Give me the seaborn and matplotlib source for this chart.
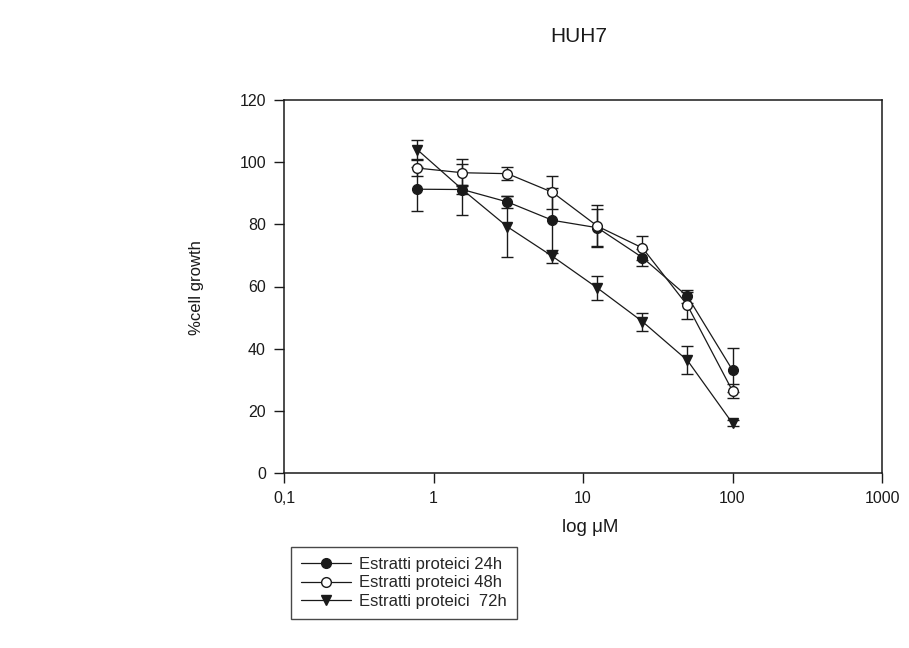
import matplotlib
matplotlib.use("Agg")
import matplotlib.pyplot as plt
import seaborn as sns
import pandas as pd
from matplotlib.ticker import FixedLocator, FixedFormatter, NullLocator

# ---- data ----
dose_uM = [0.78, 1.56, 3.125, 6.25, 12.5, 25, 50, 100]
growth_24h = [91.3, 91.2, 87.2, 81.3, 78.9, 69.3, 56.8, 33.1]
err_24h = [7.0, 1.5, 2.0, 10.5, 6.0, 2.8, 2.0, 7.0]
growth_48h = [98.1, 96.6, 96.3, 90.3, 79.4, 72.4, 53.9, 26.4]
err_48h = [2.7, 4.3, 2.0, 5.3, 6.8, 4.0, 4.2, 2.2]
growth_72h = [104.0, 91.2, 79.2, 69.7, 59.5, 48.7, 36.2, 16.0]
err_72h = [3.0, 8.3, 9.8, 2.1, 4.0, 2.9, 4.5, 1.0]
series_labels = ["Estratti proteici 24h", "Estratti proteici 48h", "Estratti proteici  72h"]
x_ticks = [0.1, 1, 10, 100, 1000]
x_tick_labels = ["0,1", "1", "10", "100", "1000"]
y_ticks = [0, 20, 40, 60, 80, 100, 120]

sns.set_style("ticks")
plt.rcParams["font.family"] = ["Liberation Sans", "DejaVu Sans"]

fig = plt.figure(figsize=(9.09, 6.48), dpi=100)
ax = fig.add_axes([284 / 909, 1 - 473 / 648, (882 - 284) / 909, (473 - 100) / 648])

ink = "#1a1a1a"
styles = [
    (growth_24h, err_24h, "o", ink),
    (growth_48h, err_48h, "o", "white"),
    (growth_72h, err_72h, "v", ink),
]

for (vals, errs, mk, fc), lab in zip(styles, series_labels):
    df = pd.DataFrame({"dose": dose_uM, "growth": vals})
    ax.errorbar(df["dose"], df["growth"], yerr=errs, fmt="none", ecolor=ink,
                elinewidth=1.0, capsize=4.5, capthick=1.0, zorder=2)
    sns.lineplot(data=df, x="dose", y="growth", ax=ax, color=ink, linewidth=0.9,
                 marker=mk, markersize=7.5 if mk == "v" else 7,
                 markerfacecolor=fc, markeredgecolor=ink, markeredgewidth=1.0,
                 label=lab, zorder=3)

ax.set_xscale("log")
ax.set_xlim(0.1, 1000)
ax.set_ylim(0, 120)
ax.xaxis.set_major_locator(FixedLocator(x_ticks))
ax.xaxis.set_major_formatter(FixedFormatter(x_tick_labels))
ax.xaxis.set_minor_locator(NullLocator())
ax.set_yticks(y_ticks)

for sp in ax.spines.values():
    sp.set_visible(True)
    sp.set_color(ink)
    sp.set_linewidth(1.1)
ax.tick_params(axis="both", direction="out", length=7, width=1.0, color=ink,
               labelsize=11.5, labelcolor=ink, pad=6)

ax.set_xlabel("log μM", fontsize=13.5, color=ink, va="center")
ax.xaxis.set_label_coords((590 - 284) / 598, -(528 - 473) / 373)
ax.set_ylabel("%cell growth", fontsize=12, color=ink, va="center")
ax.yaxis.set_label_coords(-(284 - 196) / 598, (473 - 288) / 373)

fig.text(579 / 909, 1 - 37 / 648, "HUH7", ha="center", va="center",
         fontsize=15, color=ink)

leg = ax.legend(loc="lower left", bbox_to_anchor=(291 / 909, 1 - 619 / 648),
                bbox_transform=fig.transFigure, fontsize=12, frameon=True,
                fancybox=False, edgecolor=ink, handlelength=3.0,
                labelspacing=0.22, borderpad=0.6, handletextpad=0.5,
                borderaxespad=0.0)
leg.get_frame().set_linewidth(1.0)

fig.savefig("out.png", dpi=100, facecolor="white")
